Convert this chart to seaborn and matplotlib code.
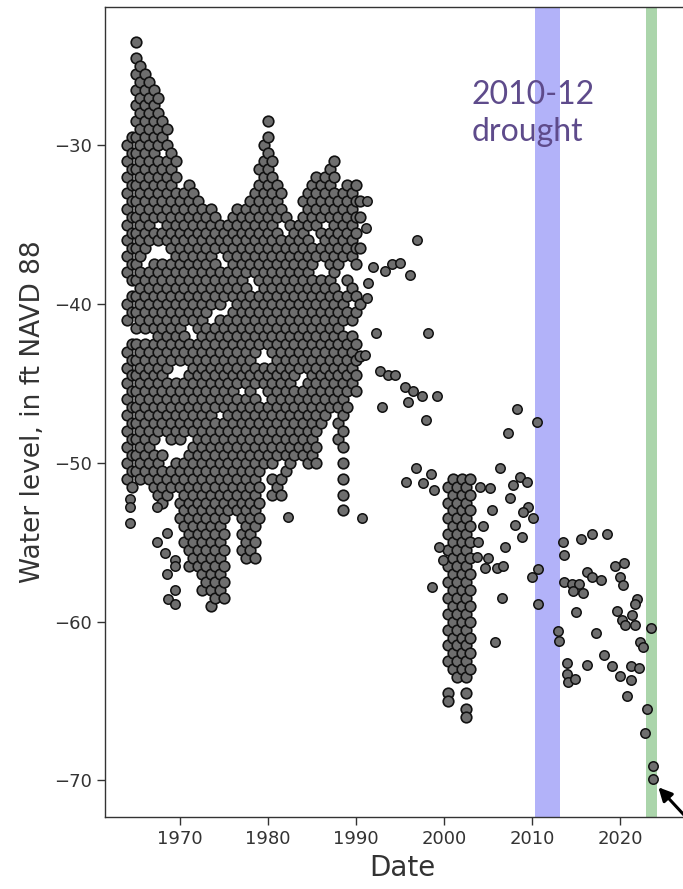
import pandas as pd
import matplotlib.pyplot as plt
import seaborn as sns

# --- Data (year, water level in ft NAVD 88) ---

# dense record 1964-1970: one column of readings per half year
years_1960s = [1964.0, 1964.5, 1965.0, 1965.5, 1966.0, 1966.5,
               1967.0, 1967.5, 1968.0, 1968.5, 1969.0, 1969.5]
levels_1960s = [
    [-30, -31, -32, -33, -34, -35, -36, -37, -38, -40, -41, -43, -44, -45, -46, -47, -48, -49, -50, -51],
    [-29.5, -30.5, -31.5, -32.5, -33.5, -34.5, -35.5, -36.5, -37.5, -38.5, -39.5, -40.5, -42.5, -43.5,
     -44.5, -45.5, -46.5, -47.5, -48.5, -49.5, -50.5, -51.5],
    [-23.5, -24.5, -25.5, -26.5, -27.5, -28.5, -29.5, -30.5, -31.5, -32.5, -33.5, -34.5, -35.5, -36.5,
     -37.5, -38.5, -39.5, -40.5, -41.5, -42.5, -43.5, -44.5, -45.5, -46.5, -47.5, -48.5, -49.5, -50.5],
    [-25, -26, -27, -28, -29, -30, -31, -32, -33, -34, -35, -36, -37, -38, -39, -40, -41, -43, -44,
     -45, -46, -47, -48, -49, -50, -51],
    [-25.5, -26.5, -27.5, -28.5, -29.5, -30.5, -31.5, -32.5, -33.5, -34.5, -35.5, -36.5, -38.5, -39.5,
     -40.5, -41.5, -42.5, -43.5, -44.5, -45.5, -46.5, -47.5, -48.5, -49.5, -50.5],
    [-26, -27, -28, -29, -30, -31, -32, -33, -34, -35, -36, -38, -39, -40, -41, -43, -44, -45, -46,
     -47, -48, -49, -50, -51],
    [-26.5, -27.5, -28.5, -29.5, -30.5, -31.5, -32.5, -33.5, -34.5, -35.5, -37.5, -38.5, -39.5, -40.5,
     -41.5, -42.5, -43.5, -44.5, -45.5, -46.5, -47.5, -48.5, -49.5, -50.5, -51.5],
    [-27, -28, -29, -30, -31, -32, -33, -34, -36, -38, -39, -40, -41, -42, -43, -44, -45, -46, -47,
     -48, -50, -51, -52],
    [-28.5, -29.5, -31.5, -32.5, -33.5, -34.5, -35.5, -37.5, -38.5, -39.5, -40.5, -41.5, -42.5, -43.5,
     -44.5, -45.5, -46.5, -47.5, -49.5, -50.5, -51.5, -52.5],
    [-29, -30, -31, -32, -33, -34, -35, -36, -38, -39, -40, -41, -42, -43, -44, -45, -46, -47, -48,
     -51, -52],
    [-30.5, -31.5, -32.5, -33.5, -34.5, -35.5, -36.5, -37.5, -38.5, -39.5, -40.5, -41.5, -42.5, -43.5,
     -45.5, -46.5, -47.5, -48.5, -50.5, -51.5],
    [-31, -32, -33, -34, -35, -36, -37, -38, -39, -40, -41, -42, -43, -45, -46, -47, -48, -50, -51],
]

# dense record 1970-1980
years_1970s = [1970.0, 1970.5, 1971.0, 1971.5, 1972.0, 1972.5, 1973.0, 1973.5, 1974.0, 1974.5,
               1975.0, 1975.5, 1976.0, 1976.5, 1977.0, 1977.5, 1978.0, 1978.5, 1979.0, 1979.5]
levels_1970s = [
    [-33.5, -34.5, -35.5, -36.5, -37.5, -38.5, -39.5, -40.5, -41.5, -42.5, -43.5, -45.5, -46.5, -47.5,
     -48.5, -50.5, -51.5, -52.5, -53.5],
    [-33, -34, -35, -36, -37, -38, -39, -40, -41, -42, -43, -45, -46, -47, -48, -50, -51, -52, -53,
     -54, -55],
    [-32.5, -33.5, -34.5, -35.5, -36.5, -37.5, -38.5, -39.5, -40.5, -42.5, -43.5, -44.5, -45.5, -46.5,
     -47.5, -49.5, -50.5, -51.5, -52.5, -53.5, -54.5, -55.5, -56.5],
    [-33, -34, -35, -36, -37, -38, -39, -40, -41, -43, -44, -45, -46, -47, -48, -49, -50, -51, -52,
     -53, -54, -55, -56],
    [-33.5, -34.5, -35.5, -36.5, -37.5, -38.5, -39.5, -40.5, -41.5, -42.5, -43.5, -44.5, -45.5, -46.5,
     -47.5, -48.5, -49.5, -50.5, -51.5, -52.5, -53.5, -54.5, -55.5, -56.5],
    [-34, -35, -36, -37, -38, -39, -40, -41, -42, -43, -44, -45, -46, -47, -48, -49, -50, -51, -52,
     -53, -54, -55, -56, -57, -58],
    [-34.5, -35.5, -36.5, -37.5, -38.5, -39.5, -40.5, -41.5, -42.5, -43.5, -44.5, -45.5, -46.5, -47.5,
     -48.5, -49.5, -50.5, -51.5, -52.5, -53.5, -54.5, -55.5, -56.5, -57.5],
    [-34, -35, -36, -37, -38, -39, -40, -42, -43, -44, -45, -46, -47, -48, -49, -50, -51, -52, -53,
     -54, -55, -56, -57, -58, -59],
    [-34.5, -35.5, -36.5, -37.5, -38.5, -39.5, -41.5, -42.5, -43.5, -44.5, -45.5, -46.5, -47.5, -48.5,
     -49.5, -50.5, -51.5, -52.5, -53.5, -54.5, -55.5, -56.5, -57.5, -58.5],
    [-35, -36, -38, -39, -40, -41, -42, -43, -44, -45, -46, -48, -49, -50, -51, -52, -53, -54, -55,
     -56, -57, -58],
    [-35.5, -36.5, -38.5, -39.5, -41.5, -42.5, -43.5, -44.5, -45.5, -46.5, -47.5, -48.5, -49.5, -50.5,
     -51.5, -52.5, -53.5, -54.5, -55.5, -56.5, -57.5, -58.5],
    [-35, -36, -37, -38, -39, -41, -42, -43, -44, -45, -46, -47, -48, -49, -50, -51, -52, -53],
    [-34.5, -35.5, -36.5, -37.5, -38.5, -39.5, -40.5, -41.5, -42.5, -43.5, -44.5, -45.5, -46.5, -47.5,
     -48.5, -49.5, -50.5, -51.5, -52.5],
    [-34, -35, -36, -37, -38, -39, -40, -41, -42, -43, -44, -45, -46, -47, -48, -49, -50, -51, -52, -53],
    [-34.5, -35.5, -36.5, -37.5, -38.5, -39.5, -40.5, -41.5, -42.5, -43.5, -44.5, -46.5, -47.5, -48.5,
     -49.5, -50.5, -51.5, -52.5, -53.5, -54.5, -55.5],
    [-34, -35, -36, -37, -38, -39, -40, -41, -42, -43, -44, -45, -46, -47, -48, -49, -50, -51, -52,
     -53, -54, -55, -56],
    [-33.5, -34.5, -35.5, -36.5, -37.5, -39.5, -40.5, -41.5, -42.5, -43.5, -44.5, -45.5, -46.5, -47.5,
     -48.5, -49.5, -50.5, -51.5, -52.5, -53.5, -54.5, -55.5],
    [-33, -34, -35, -36, -37, -38, -40, -41, -42, -43, -44, -45, -46, -47, -48, -49, -50, -51, -52,
     -53, -54, -55, -56],
    [-31.5, -32.5, -33.5, -34.5, -35.5, -36.5, -37.5, -38.5, -39.5, -40.5, -41.5, -42.5, -44.5, -46.5,
     -47.5, -48.5, -49.5, -50.5, -51.5, -52.5, -53.5],
    [-30, -31, -32, -33, -34, -35, -36, -37, -38, -39, -40, -41, -42, -44, -45, -47, -48, -49, -50],
]

# dense record 1980-1991
years_1980s = [1980.0, 1980.5, 1981.0, 1981.5, 1982.0, 1982.5, 1983.0, 1983.5, 1984.0, 1984.5, 1985.0,
               1985.5, 1986.0, 1986.5, 1987.0, 1987.5, 1988.0, 1988.5, 1989.0, 1989.5, 1990.0, 1990.5]
levels_1980s = [
    [-28.5, -29.5, -30.5, -31.5, -32.5, -33.5, -34.5, -35.5, -36.5, -37.5, -38.5, -39.5, -40.5, -41.5,
     -42.5, -44.5, -45.5, -46.5, -47.5, -48.5, -49.5],
    [-31, -32, -33, -34, -35, -36, -37, -38, -39, -40, -41, -42, -43, -44, -45, -46, -47, -48, -49,
     -50, -51, -52],
    [-32.5, -33.5, -34.5, -35.5, -36.5, -37.5, -38.5, -39.5, -40.5, -41.5, -42.5, -43.5, -44.5, -45.5,
     -46.5, -47.5, -48.5, -49.5, -51.5],
    [-33, -34, -36, -37, -38, -39, -40, -41, -42, -43, -44, -45, -46, -47, -48, -49, -51, -52],
    [-34.5, -36.5, -37.5, -38.5, -39.5, -40.5, -41.5, -42.5, -43.5, -44.5, -45.5, -46.5, -47.5, -48.5,
     -49.5, -50.5],
    [-35, -36, -37, -38, -39, -40, -41, -42, -43, -44, -45, -46, -47, -48, -49, -50],
    [-35.5, -36.5, -37.5, -38.5, -39.5, -40.5, -41.5, -42.5, -43.5, -44.5, -45.5, -46.5, -47.5, -48.5, -49.5],
    [-35, -36, -37, -38, -39, -40, -41, -42, -43, -44, -46, -47, -48, -49],
    [-33.5, -34.5, -35.5, -36.5, -37.5, -38.5, -39.5, -40.5, -41.5, -42.5, -43.5, -45.5, -46.5, -47.5,
     -48.5, -49.5],
    [-33, -34, -35, -36, -37, -38, -39, -40, -41, -42, -43, -44, -45, -46, -47, -48, -49, -50],
    [-32.5, -33.5, -34.5, -36.5, -37.5, -38.5, -39.5, -40.5, -41.5, -42.5, -43.5, -44.5, -45.5, -46.5,
     -47.5, -48.5, -49.5],
    [-32, -33, -34, -35, -37, -39, -40, -41, -42, -43, -44, -45, -46, -47, -48, -49, -50],
    [-32.5, -33.5, -34.5, -35.5, -36.5, -38.5, -39.5, -40.5, -41.5, -42.5, -43.5, -44.5, -45.5, -46.5, -47.5],
    [-32, -33, -34, -36, -37, -39, -40, -41, -42, -43, -44, -45, -46, -47],
    [-31.5, -32.5, -33.5, -34.5, -35.5, -36.5, -37.5, -38.5, -39.5, -40.5, -41.5, -42.5, -43.5, -44.5,
     -45.5, -46.5],
    [-31, -32, -33, -34, -35, -36, -37, -38, -39, -40, -41, -42, -43, -44, -45, -46],
    [-33.5, -34.5, -35.5, -36.5, -37.5, -39.5, -40.5, -41.5, -42.5, -43.5, -44.5, -45.5, -46.5, -47.5, -48.5],
    [-33, -34, -35, -36, -37, -40, -41, -42, -43, -44, -45, -46, -47, -48, -49, -50, -51, -52, -53],
    [-32.5, -33.5, -34.5, -35.5, -36.5, -38.5, -39.5, -40.5, -42.5, -43.5, -44.5, -45.5, -46.5],
    [-33, -34, -35, -36, -37, -39, -41, -42, -43, -44, -45],
    [-32.5, -33.5, -34.5, -35.5, -36.5, -37.5, -39.5, -40.5, -42.5, -43.5, -44.5, -45.5],
    [-33.5, -34.5, -36.5, -40, -43.3],
]

# dense record 2000-2003
years_2000s = [2000.5, 2001.0, 2001.5, 2002.0, 2002.5, 2003.0]
levels_2000s = [
    [-51.5, -52.5, -53.5, -54.5, -55.5, -56.5, -57.5, -58.5, -59.5, -60.5, -61.5, -62.5, -64.5, -65.0],
    [-51, -52, -53, -54, -55, -56, -57, -58, -59, -60, -61, -62, -63],
    [-51.5, -52.5, -53.5, -54.5, -55.5, -56.5, -57.5, -58.5, -59.5, -60.5, -61.5, -62.5, -63.5],
    [-51, -52, -53, -54, -55, -56, -57, -58, -59, -60, -61, -62, -63],
    [-51.5, -52.5, -53.5, -54.5, -55.5, -56.5, -57.5, -58.5, -59.5, -60.5, -61.5, -62.5, -63.5,
     -64.5, -65.5, -66.0],
    [-51, -52, -53, -54, -55, -56, -57, -58, -59, -60, -61, -62, -63],
]

# isolated readings
single_years = [
    1964.3, 1964.3, 1964.3, 1967.4, 1967.4, 1968.5, 1968.5, 1968.3, 1968.6, 1969.4, 1969.4, 1969.4, 1969.4,
    1982.3, 1990.7,
    1991.25, 1991.14, 1991.9, 1991.36, 1991.25, 1993.3, 1994.1, 1995.0, 1996.1, 1996.9, 1992.3, 1991.0,
    1992.7, 1993.6, 1994.4, 1992.95, 1995.6, 1996.5, 1997.5, 1995.9, 1999.2, 1998.0, 1998.2,
    1996.8, 1998.5, 1995.7, 1997.6, 1998.9, 1999.4, 1999.9, 1998.6,
    2004.1, 2005.2, 2006.4, 2008.6, 2007.8, 2009.4, 2007.5, 2009.5, 2009.0, 2010.1, 2005.5, 2004.4,
    2008.1, 2008.9, 2003.9, 2006.9, 2003.75, 2005.0, 2004.7, 2006.0, 2006.7, 2010.7, 2010.0, 2006.6,
    2005.8, 2010.7, 2008.3, 2010.6, 2007.3,
    2013.5, 2013.6, 2015.6, 2016.8, 2018.5, 2013.6, 2014.5, 2015.3, 2014.7, 2015.8, 2016.25, 2016.8,
    2017.8, 2019.4, 2020.45, 2020.0, 2020.3, 2015.0, 2012.95, 2013.1, 2017.3, 2021.9, 2021.7, 2019.7,
    2021.4, 2020.2, 2020.6, 2021.7, 2023.5, 2022.3, 2022.6, 2018.2, 2014.0, 2016.25, 2019.1, 2021.25,
    2022.2, 2014.0, 2014.1, 2014.9, 2020.0, 2021.25, 2020.8, 2023.1, 2022.8, 2023.75, 2023.75,
]
single_levels = [
    -52.3, -52.8, -53.8, -52.8, -55.0, -54.4, -57.0, -55.7, -58.6, -56.1, -56.5, -58.0, -58.9,
    -53.4, -53.5,
    -33.5, -35.2, -37.7, -38.7, -39.6, -37.9, -37.5, -37.4, -38.2, -36.0, -41.8, -43.2,
    -44.2, -44.5, -44.5, -46.5, -45.2, -45.5, -45.8, -46.2, -45.8, -47.3, -41.8,
    -50.3, -50.7, -51.2, -51.3, -51.7, -55.3, -56.1, -57.8,
    -51.5, -51.6, -50.3, -50.9, -51.4, -51.2, -52.2, -52.8, -53.1, -53.5, -53.0, -54.0,
    -53.9, -54.7, -55.0, -55.3, -55.9, -56.0, -56.6, -56.6, -56.5, -56.7, -57.2, -58.5,
    -61.3, -58.9, -46.6, -47.4, -48.1,
    -55.0, -55.8, -54.8, -54.5, -54.5, -57.5, -57.6, -57.6, -58.1, -58.2, -56.9, -57.2,
    -57.4, -56.5, -56.3, -57.2, -57.7, -59.4, -60.6, -61.2, -60.7, -58.6, -58.9, -59.3,
    -59.6, -59.9, -60.2, -60.2, -60.4, -61.3, -61.6, -62.1, -62.6, -62.7, -62.8, -62.8,
    -62.9, -63.3, -63.8, -63.6, -63.4, -63.7, -64.7, -65.5, -67.0, -69.1, -69.9,
]

drought_span = [2010.3, 2013.2]
recent_span = [2023.0, 2024.2]

# --- Build the tables ---
rows = []
for yrs, lvls in [(years_1960s, levels_1960s), (years_1970s, levels_1970s),
                  (years_1980s, levels_1980s), (years_2000s, levels_2000s)]:
    for yr, col in zip(yrs, lvls):
        for v in col:
            rows.append((yr, v))
df_dense = pd.DataFrame(rows, columns=["date", "level"])
df_single = pd.DataFrame({"date": single_years, "level": single_levels})

# --- Plot ---
sns.set_style("ticks")
plt.rcParams["font.family"] = ["Liberation Sans Narrow", "DejaVu Sans"]

fig = plt.figure(figsize=(6.83, 8.89), dpi=100)
ax = fig.add_axes([105 / 683, 72 / 889, 595 / 683, 810 / 889])

ax.axvspan(*drought_span, color="#2b2bf0", alpha=0.36, lw=0, zorder=0)
ax.axvspan(*recent_span, color="green", alpha=0.33, lw=0, zorder=0)

sns.scatterplot(data=df_dense, x="date", y="level", ax=ax, marker="o", s=58,
                color="#6e6e6e", edgecolor="#111111", linewidth=1.2, zorder=3)
sns.scatterplot(data=df_single, x="date", y="level", ax=ax, marker="o", s=46,
                color="#6e6e6e", edgecolor="#111111", linewidth=1.1, zorder=3)

ax.set_xlim(1961.48, 2029.1)
ax.set_ylim(-72.3, -21.3)
ax.set_xticks([1970, 1980, 1990, 2000, 2010, 2020])
ax.set_yticks([-70, -60, -50, -40, -30])
ax.tick_params(direction="out", length=6, width=1, colors="#333333", labelsize=13)
for s in ax.spines.values():
    s.set_color("#333333")
    s.set_linewidth(1.0)

ax.set_xlabel("Date", fontsize=20, color="#333333", labelpad=4)
ax.set_ylabel("Water level, in ft NAVD 88", fontsize=19, color="#333333", labelpad=6)

ax.text(2003.1, -25.9, "2010-12\ndrought", color="#5e4b8b", fontsize=23,
        family=["Lato", "DejaVu Sans"], va="top", ha="left", linespacing=1.3)

ax.annotate("", xy=(2024.15, -70.3), xytext=(2028.0, -72.6),
            arrowprops=dict(arrowstyle="-|>", color="black", lw=2.2, mutation_scale=20),
            annotation_clip=False)

fig.savefig("out.png", dpi=100)
